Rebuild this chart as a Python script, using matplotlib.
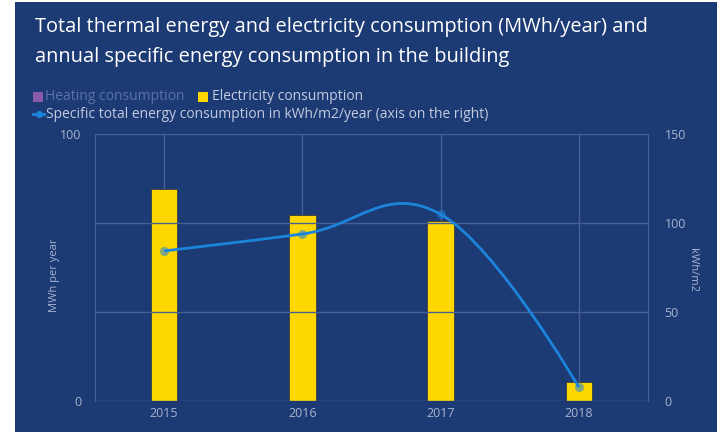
import matplotlib
matplotlib.use("Agg")
import matplotlib.pyplot as plt
from matplotlib.patches import Rectangle, PathPatch
from matplotlib.path import Path
from matplotlib.lines import Line2D
import numpy as np

# ---- data ----
years = ["2015", "2016", "2017", "2018"]
electricity_mwh = [79.4, 69.7, 67.5, 7.0]
specific_kwh_m2 = [84.3, 93.8, 104.9, 7.7]
left_ticks = [0, 100]
right_ticks = [0, 50, 100, 150]

# ---- style ----
PANEL = "#1c3a73"
GRID = "#475f97"
TICK_TXT = "#a7b4cf"
YELLOW = "#ffd700"
LINE = "#1d84dc"
FONT = ["Open Sans", "DejaVu Sans"]
plt.rcParams["font.family"] = FONT

W, H, DPI = 717, 432, 100
fig = plt.figure(figsize=(W / DPI, H / DPI), dpi=DPI, facecolor="white")

# dark card behind the chart
fig.patches.append(Rectangle((15 / W, 0), 1 - 15 / W, 1 - 2 / H,
                             transform=fig.transFigure, facecolor=PANEL,
                             edgecolor="none", zorder=-10))

ax = fig.add_axes([95 / W, 1 - 401 / H, (648 - 95) / W, (401 - 134) / H])
ax.set_facecolor("none")
ax2 = ax.twinx()
ax2.set_facecolor("none")

x = np.arange(len(years))
ax.set_xlim(-0.5, len(years) - 0.5)
ax.set_ylim(0, 100)
ax2.set_ylim(0, 150)

# grid: horizontal lines follow the right-hand scale, vertical at categories
for v in right_ticks:
    ax2.axhline(v, color=GRID, lw=1, zorder=0)
for xi in x:
    ax.axvline(xi, color=GRID, lw=1, zorder=0)

ax.bar(x, electricity_mwh, width=0.19, color=YELLOW, edgecolor="#3a3f3a",
       linewidth=0.6, zorder=2)


# smooth spline through the specific-consumption points
def spline_path(xs, ys, smoothing=1.5):
    n = len(xs)
    denom = smoothing + 1
    left = [(xs[i], ys[i]) for i in range(n)]
    right = [(xs[i], ys[i]) for i in range(n)]
    for i in range(1, n - 1):
        lx = (smoothing * xs[i] + xs[i - 1]) / denom
        ly = (smoothing * ys[i] + ys[i - 1]) / denom
        rx = (smoothing * xs[i] + xs[i + 1]) / denom
        ry = (smoothing * ys[i] + ys[i + 1]) / denom
        corr = (ry - ly) * (rx - xs[i]) / (rx - lx) + ys[i] - ry
        left[i] = (lx, ly + corr)
        right[i] = (rx, ry + corr)
    verts = [(xs[0], ys[0])]
    codes = [Path.MOVETO]
    for i in range(1, n):
        verts += [right[i - 1], left[i], (xs[i], ys[i])]
        codes += [Path.CURVE4] * 3
    return Path(verts, codes)


ax2.add_patch(PathPatch(spline_path(list(x), specific_kwh_m2), facecolor="none",
                        edgecolor=LINE, lw=2, zorder=3))
ax2.plot(x, specific_kwh_m2, ls="none", marker="o", ms=6.5,
         color=LINE, alpha=0.55, mec="none", zorder=4)
ax2.set_zorder(ax.get_zorder() + 1)

# axes cosmetics
for a in (ax, ax2):
    for s in a.spines.values():
        s.set_visible(False)
    a.tick_params(length=0, colors=TICK_TXT, labelsize=9)
ax.spines["left"].set_visible(True)
ax.spines["left"].set_color(GRID)
ax2.spines["right"].set_visible(True)
ax2.spines["right"].set_color(GRID)

ax.set_xticks(x)
ax.set_xticklabels(years)
ax.tick_params(axis="x", pad=4)
ax.set_yticks(left_ticks)
ax.tick_params(axis="y", pad=10)
ax2.set_yticks(right_ticks)
ax2.tick_params(axis="y", pad=12)

ax.set_ylabel("MWh per year", color=TICK_TXT, fontsize=8)
ax.yaxis.set_label_coords(-0.064, 0.47)
ax2.set_ylabel("kWh/m2", color=TICK_TXT, fontsize=8, rotation=-90, va="center")
ax2.yaxis.set_label_coords(1.08, 0.49)

# title
fig.text(35 / W, 1 - 27 / H, "Total thermal energy and electricity consumption (MWh/year) and",
         color="white", fontsize=14.4, va="center", ha="left")
fig.text(35 / W, 1 - 57 / H, "annual specific energy consumption in the building",
         color="white", fontsize=14.4, va="center", ha="left")

# legend (drawn by hand so the hidden heating series appears dimmed)
row1, row2 = 1 - 97 / H, 1 - 114 / H
fig.patches.append(Rectangle((33 / W, row1 - 5 / H), 10 / W, 10 / H,
                             transform=fig.transFigure, facecolor="#8a5aa8",
                             edgecolor="none"))
fig.text(45 / W, row1, "Heating consumption", color="#5c72a6", fontsize=10,
         va="center", ha="left")
fig.patches.append(Rectangle((198 / W, row1 - 5 / H), 10 / W, 10 / H,
                             transform=fig.transFigure, facecolor=YELLOW,
                             edgecolor="none"))
fig.text(212 / W, row1, "Electricity consumption", color="#c3cbe0", fontsize=10,
         va="center", ha="left")
fig.lines.append(Line2D([33 / W, 44 / W], [row2, row2], transform=fig.transFigure,
                        color=LINE, lw=2))
fig.lines.append(Line2D([38.5 / W], [row2], transform=fig.transFigure,
                        color=LINE, marker="o", ms=4, ls="none"))
fig.text(46 / W, row2, "Specific total energy consumption in kWh/m2/year (axis on the right)",
         color="#c3cbe0", fontsize=10, va="center", ha="left")

fig.savefig("out.png", dpi=DPI, facecolor="white")
